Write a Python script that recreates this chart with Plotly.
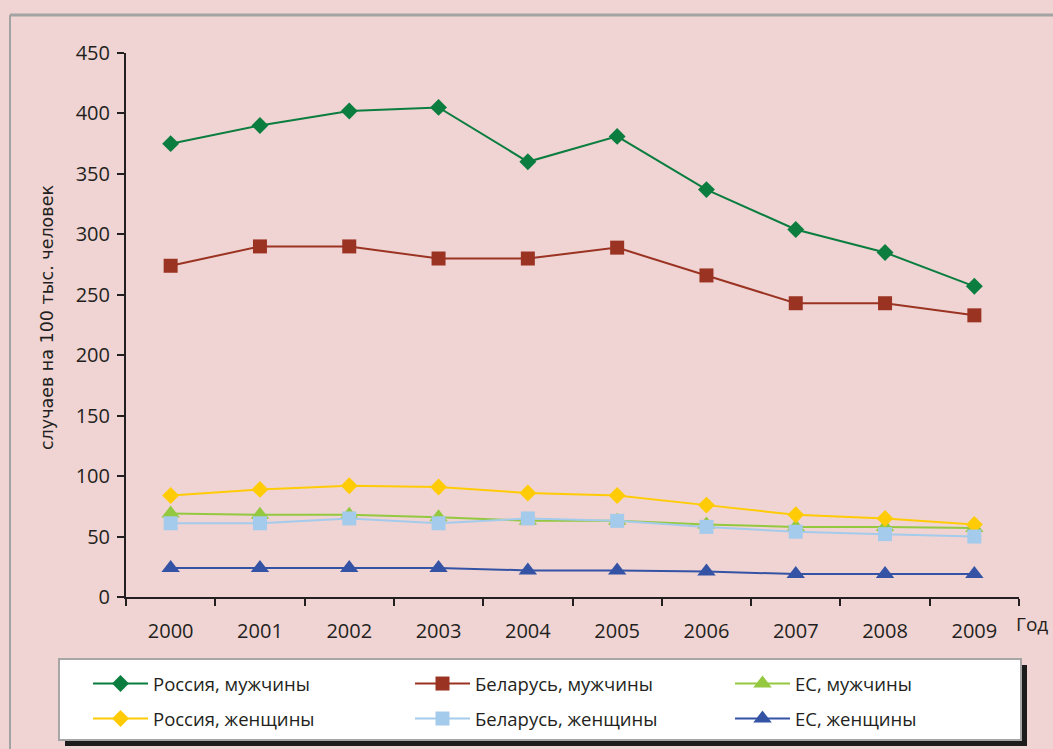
import plotly.graph_objects as go

years = ["2000", "2001", "2002", "2003", "2004", "2005", "2006", "2007", "2008", "2009"]
russia_men = [375, 390, 402, 405, 360, 381, 337, 304, 285, 257]
belarus_men = [274, 290, 290, 280, 280, 289, 266, 243, 243, 233]
eu_men = [69, 68, 68, 66, 63, 63, 60, 58, 58, 57]
russia_women = [84, 89, 92, 91, 86, 84, 76, 68, 65, 60]
belarus_women = [61, 61, 65, 61, 65, 63, 58, 54, 52, 50]
eu_women = [24, 24, 24, 24, 22, 22, 21, 19, 19, 19]

W, H = 1053, 749
L, R, T, B = 126, 1019, 53, 597  # plot area in px


def px_x(p):
    return (p - L) / (R - L)


def px_y(p):
    return (B - p) / (B - T)


series = [
    ("Россия, мужчины", russia_men, "#0b7d3f", "diamond", 13, "legend"),
    ("Беларусь, мужчины", belarus_men, "#9b3322", "square", 14, "legend2"),
    ("ЕС, мужчины", eu_men, "#93c83f", "triangle-up", 16, "legend3"),
    ("Россия, женщины", russia_women, "#ffcb05", "diamond", 13, "legend4"),
    ("Беларусь, женщины", belarus_women, "#a4cbec", "square", 14, "legend5"),
    ("ЕС, женщины", eu_women, "#3553a5", "triangle-up", 16, "legend6"),
]

fig = go.Figure()
for name, vals, col, sym, sz, lg in series:
    fig.add_trace(go.Scatter(
        x=years, y=vals, name=name, mode="lines+markers",
        line=dict(color=col, width=2),
        marker=dict(symbol=sym, size=sz, color=col, line=dict(width=0)),
        legend=lg,
    ))

txt = "#231f20"
font_main = "Open Sans"

col_x = [88, 410, 730]
row_y = [684, 719]
legend_layouts = {}
names = ["legend", "legend2", "legend3", "legend4", "legend5", "legend6"]
for i, lg in enumerate(names):
    r, c = divmod(i, 3)
    legend_layouts[lg] = dict(
        xref="container", yref="container",
        x=col_x[c] / W, y=1 - row_y[r] / H,
        xanchor="left", yanchor="middle",
        bgcolor="rgba(0,0,0,0)", borderwidth=0,
        orientation="h", itemwidth=55,
        font=dict(family=font_main, size=18.5, color=txt),
        itemclick=False,
    )

shapes = [
    # frame
    dict(type="line", xref="paper", yref="paper", x0=px_x(10), x1=px_x(1060),
         y0=px_y(15), y1=px_y(15), line=dict(color="#a3a3a3", width=3)),
    dict(type="line", xref="paper", yref="paper", x0=px_x(10), x1=px_x(10),
         y0=px_y(15), y1=px_y(760), line=dict(color="#a3a3a3", width=2)),
    # legend shadow
    dict(type="rect", xref="paper", yref="paper", x0=px_x(65), x1=px_x(1027),
         y0=px_y(665), y1=px_y(746), fillcolor="#1c1c1c", line=dict(width=0)),
    # legend box
    dict(type="rect", xref="paper", yref="paper", x0=px_x(59), x1=px_x(1021),
         y0=px_y(659), y1=px_y(740), fillcolor="white",
         line=dict(color="#a6a6a6", width=2)),
]

fig.update_layout(
    width=W, height=H,
    margin=dict(l=L, r=W - R, t=T, b=H - B, autoexpand=False),
    paper_bgcolor="#efd4d3", plot_bgcolor="#efd4d3",
    font=dict(family=font_main, size=20, color=txt),
    showlegend=True,
    shapes=shapes,
    xaxis=dict(
        type="category", range=[-0.5, 9.5], showgrid=False, zeroline=False,
        showline=True, linecolor=txt, linewidth=2,
        ticks="outside", ticklen=7, tickwidth=2, tickcolor=txt,
        tickson="boundaries", ticklabelstandoff=15,
        tickfont=dict(family=font_main, size=20, color=txt),
    ),
    yaxis=dict(
        range=[0, 450], dtick=50, showgrid=False, zeroline=False,
        showline=True, linecolor=txt, linewidth=2,
        ticks="outside", ticklen=7, tickwidth=2, tickcolor=txt,
        ticklabelstandoff=3,
        tickfont=dict(family=font_main, size=20, color=txt),
    ),
    annotations=[
        dict(text="случаев на 100 тыс. человек", textangle=-90,
             xref="paper", yref="paper", x=px_x(47), y=px_y(318),
             xanchor="center", yanchor="middle",
             showarrow=False, font=dict(family="DejaVu Sans", size=17.5, color=txt)),
        dict(text="Год", xref="paper", yref="paper", x=px_x(1050), y=px_y(624),
             xanchor="right", yanchor="middle",
             showarrow=False, font=dict(family=font_main, size=19, color=txt)),
    ],
    **legend_layouts,
)

fig.write_html("out.html")
